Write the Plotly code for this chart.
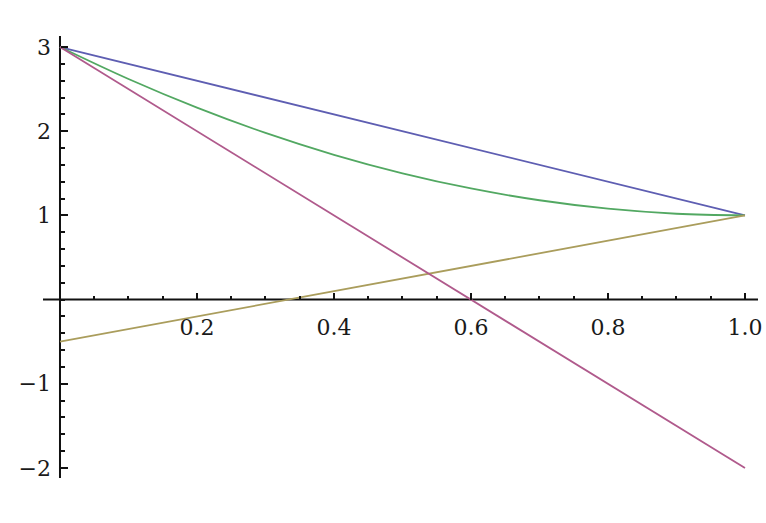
import plotly.graph_objects as go

# Data
x_vals = [0.0, 0.1, 0.2, 0.3, 0.4, 0.5, 0.6, 0.7, 0.8, 0.9, 1.0]
blue_y = [3.0, 2.8, 2.6, 2.4, 2.2, 2.0, 1.8, 1.6, 1.4, 1.2, 1.0]
magenta_y = [3.0, 2.5, 2.0, 1.5, 1.0, 0.5, 0.0, -0.5, -1.0, -1.5, -2.0]
olive_y = [-0.5, -0.35, -0.2, -0.05, 0.1, 0.25, 0.4, 0.55, 0.7, 0.85, 1.0]
green_y = [3.0, 2.62, 2.28, 1.98, 1.72, 1.5, 1.32, 1.18, 1.08, 1.02, 1.0]

x_tick_vals = [0.2, 0.4, 0.6, 0.8, 1.0]
x_tick_text = ["0.2", "0.4", "0.6", "0.8", "1.0"]
y_tick_vals = [-2, -1, 1, 2, 3]
y_tick_text = ["\u22122", "\u22121", "1", "2", "3"]

series = [
    ("blue", blue_y, "#5e5eb2", "linear"),
    ("green", green_y, "#52a862", "spline"),
    ("olive", olive_y, "#aa9d5c", "linear"),
    ("magenta", magenta_y, "#b05a8c", "linear"),
]

fig = go.Figure()
for name, ys, col, shape in series:
    fig.add_trace(go.Scatter(x=x_vals, y=ys, mode="lines", name=name,
                             line=dict(color=col, width=1.8, shape=shape),
                             showlegend=False))

x_range = [-0.0248, 1.019]
y_range = [-2.119, 3.131]
yaxis_pos = (0 - x_range[0]) / (x_range[1] - x_range[0])
xaxis_pos = (0 - y_range[0]) / (y_range[1] - y_range[0])

font = dict(family="DejaVu Serif", size=22, color="#1a1a1a")

fig.update_layout(
    width=766, height=523,
    margin=dict(l=43, r=8, t=36, b=45, autoexpand=False),
    paper_bgcolor="white", plot_bgcolor="white",
    xaxis=dict(range=x_range, showgrid=False, zeroline=False, automargin=False,
               showline=False, anchor="free", position=xaxis_pos,
               tickvals=x_tick_vals, ticktext=x_tick_text,
               ticks="inside", ticklen=7, tickwidth=1.8, tickcolor="#111",
               ticklabelstandoff=12,
               minor=dict(dtick=0.05, tick0=0, ticks="inside", ticklen=4,
                          tickwidth=1.6, tickcolor="#111", showgrid=False),
               tickfont=font),
    yaxis=dict(range=y_range, showgrid=False, zeroline=False, automargin=False,
               showline=False, anchor="free", position=yaxis_pos,
               tickvals=y_tick_vals, ticktext=y_tick_text,
               ticks="inside", ticklen=7, tickwidth=1.8, tickcolor="#111",
               ticklabelstandoff=9,
               minor=dict(dtick=0.2, tick0=0, ticks="inside", ticklen=4,
                          tickwidth=1.6, tickcolor="#111", showgrid=False),
               tickfont=font),
)

# axis lines crossing at the origin, drawn along the axes' own scales
fig.add_shape(type="line", xref="paper", yref="y", x0=0, x1=1, y0=0, y1=0,
              line=dict(color="#111", width=2), layer="below")
fig.add_shape(type="line", xref="x", yref="paper", x0=0, x1=0, y0=0, y1=1,
              line=dict(color="#111", width=2), layer="below")

fig.write_html("out.html", config={"displayModeBar": False},
               post_script="document.body.style.margin='0';")
